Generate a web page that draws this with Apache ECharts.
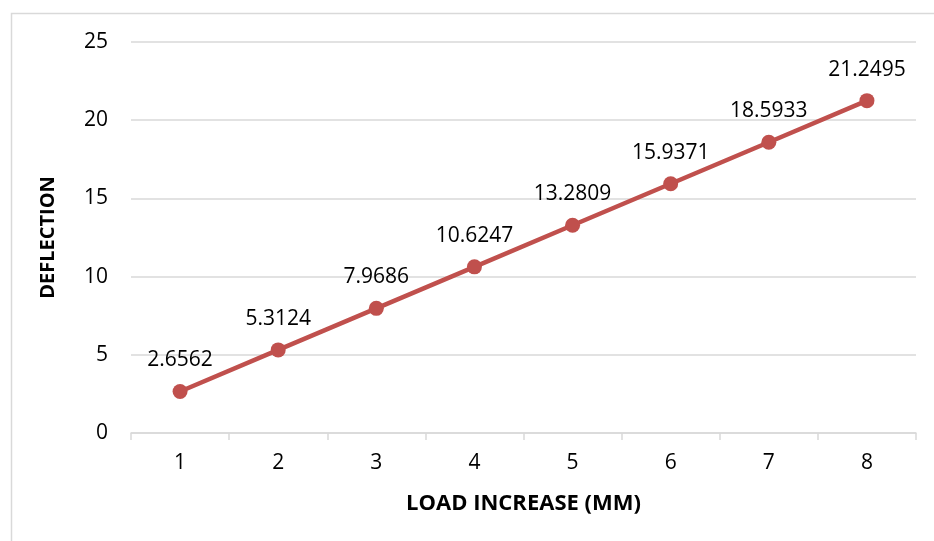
<!DOCTYPE html>
<html>
<head>
<meta charset="utf-8">
<script src="https://cdn.jsdelivr.net/npm/echarts@6/dist/echarts.min.js"></script>
<style>html,body{margin:0;padding:0;background:#fff;}#c{width:934px;height:541px;}</style>
</head>
<body>
<div id="c"></div>
<script>
const categories = ['1', '2', '3', '4', '5', '6', '7', '8'];
const deflection = [2.6562, 5.3124, 7.9686, 10.6247, 13.2809, 15.9371, 18.5933, 21.2495];
const xTitle = 'LOAD INCREASE (MM)';
const yTitle = 'DEFLECTION';

const chart = echarts.init(document.getElementById('c'), null, {renderer: 'canvas'});
const FONT = 'Open Sans';
chart.setOption({
  backgroundColor: '#fff',
  animation: false,
  graphic: [{
    type: 'rect',
    shape: {x: 11.5, y: 13.5, width: 1000, height: 1000},
    style: {fill: 'none', stroke: '#d9d9d9', lineWidth: 1.5},
    silent: true
  }],
  grid: {left: 131, right: 18, top: 42, bottom: 108, containLabel: false},
  xAxis: {
    type: 'category',
    data: categories,
    boundaryGap: true,
    axisLine: {show: true, lineStyle: {color: '#d9d9d9', width: 1.5}},
    axisTick: {show: true, length: 7, lineStyle: {color: '#d9d9d9', width: 1.5}},
    axisLabel: {color: '#000', fontFamily: FONT, fontSize: 21, margin: 20},
    name: xTitle,
    nameLocation: 'middle',
    nameGap: 60,
    nameTextStyle: {color: '#000', fontFamily: FONT, fontSize: 22, fontWeight: 'bold'}
  },
  yAxis: {
    type: 'value',
    min: 0, max: 25, interval: 5,
    axisLine: {show: false},
    axisTick: {show: false},
    splitLine: {lineStyle: {color: '#d9d9d9', width: 1.5}},
    axisLabel: {color: '#000', fontFamily: FONT, fontSize: 21, margin: 23},
    name: yTitle,
    nameLocation: 'middle',
    nameGap: 73,
    nameTextStyle: {color: '#000', fontFamily: FONT, fontSize: 20, fontWeight: 'bold'}
  },
  series: [{
    type: 'line',
    data: deflection,
    symbol: 'circle',
    symbolSize: 15,
    lineStyle: {color: '#c0504d', width: 4.5},
    itemStyle: {color: '#c0504d'},
    label: {
      show: true,
      position: 'top',
      distance: 13,
      color: '#000',
      fontFamily: FONT,
      fontSize: 21,
      formatter: p => String(p.value)
    }
  }]
});
</script>
</body>
</html>
